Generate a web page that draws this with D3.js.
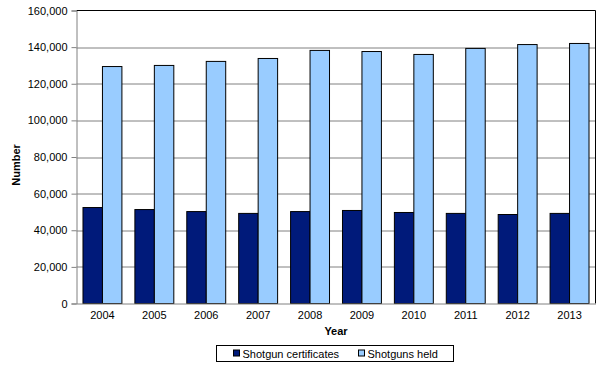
<!DOCTYPE html>
<html>
<head>
<meta charset="utf-8">
<script src="https://cdn.jsdelivr.net/npm/d3@7"></script>
<style>
  body { margin: 0; background: #fff; }
  text { font-family: "Liberation Sans", Arial, sans-serif; }
</style>
</head>
<body>
<div id="chart"></div>
<script>
// data
const years = ['2004', '2005', '2006', '2007', '2008', '2009', '2010', '2011', '2012', '2013'];
const certificates = [52400, 51300, 50200, 49200, 50200, 50800, 49700, 49200, 48600, 49200];
const shotgunsHeld = [129400, 130000, 132200, 133800, 138200, 137600, 136000, 139300, 141400, 142000];
const seriesNames = ['Shotgun certificates', 'Shotguns held'];
const yTicks = [0, 20000, 40000, 60000, 80000, 100000, 120000, 140000, 160000];

const draw = () => {
    const dimensions = {
        width: 605,
        height: 369,
        margin: { top: 10.5, bottom: 65.5, left: 76.5, right: 9.5 }
    };
    dimensions.containerWidth = dimensions.width - dimensions.margin.left - dimensions.margin.right;
    dimensions.containerHeight = dimensions.height - dimensions.margin.top - dimensions.margin.bottom;

    const colors = ['#001a7a', '#99ccff'];
    const dataSet = years.map((year, i) => ({ year, values: [certificates[i], shotgunsHeld[i]] }));

    const svg = d3.select('#chart')
        .append('svg')
        .attr('width', dimensions.width)
        .attr('height', dimensions.height);

    const container = svg.append('g')
        .attr('transform', `translate(${dimensions.margin.left}, ${dimensions.margin.top})`);

    // scales
    const xScale = d3.scaleBand()
        .domain(years)
        .range([0, dimensions.containerWidth])
        .paddingInner(0.25)
        .paddingOuter(0.125);

    const seriesScale = d3.scaleBand()
        .domain([0, 1])
        .range([0, xScale.bandwidth()]);

    const yScale = d3.scaleLinear()
        .domain([0, 160000])
        .range([dimensions.containerHeight, 0]);

    // gridlines
    container.append('g')
        .selectAll('line')
        .data(yTicks.slice(1, -1))
        .join('line')
        .attr('x1', 0)
        .attr('x2', dimensions.containerWidth)
        .attr('y1', d => Math.round(yScale(d)) + 0.5)
        .attr('y2', d => Math.round(yScale(d)) + 0.5)
        .attr('stroke', '#808080');

    // frame top/right
    container.append('path')
        .attr('d', `M0,0H${dimensions.containerWidth}V${dimensions.containerHeight}`)
        .attr('fill', 'none')
        .attr('stroke', '#000');

    // bars
    container.selectAll('g.group')
        .data(dataSet)
        .join('g')
        .attr('class', 'group')
        .attr('transform', d => `translate(${xScale(d.year)}, 0)`)
        .selectAll('rect')
        .data(d => d.values.map((v, i) => ({ v, i })))
        .join('rect')
        .attr('x', d => seriesScale(d.i))
        .attr('y', d => yScale(d.v))
        .attr('width', seriesScale.bandwidth())
        .attr('height', d => dimensions.containerHeight - yScale(d.v))
        .attr('fill', d => colors[d.i])
        .attr('stroke', '#000')
        .attr('stroke-width', 1);

    // axes
    const yAxis = d3.axisLeft(yScale)
        .tickValues(yTicks)
        .tickSize(5)
        .tickFormat(d3.format(','));

    const yAxisGroup = container.append('g').call(yAxis);
    yAxisGroup.select('.domain').attr('stroke', '#808080');
    yAxisGroup.selectAll('.tick line').attr('stroke', '#808080');
    yAxisGroup.selectAll('.tick text')
        .attr('x', -9)
        .attr('font-size', 11)
        .attr('font-family', '"Liberation Sans", Arial, sans-serif')
        .attr('fill', '#000');

    const xAxis = d3.axisBottom(xScale).tickSize(0).tickPadding(8);
    const xAxisGroup = container.append('g')
        .attr('transform', `translate(0, ${dimensions.containerHeight})`)
        .call(xAxis);
    xAxisGroup.select('.domain').attr('stroke', '#808080');
    xAxisGroup.selectAll('.tick text')
        .attr('font-size', 11)
        .attr('font-family', '"Liberation Sans", Arial, sans-serif')
        .attr('fill', '#000');

    xAxisGroup.append('text')
        .attr('x', dimensions.containerWidth / 2)
        .attr('y', 31)
        .attr('fill', '#000')
        .attr('font-size', 11)
        .attr('font-weight', 'bold')
        .attr('text-anchor', 'middle')
        .text('Year');

    svg.append('text')
        .attr('transform', 'translate(20, 165) rotate(-90)')
        .attr('fill', '#000')
        .attr('font-size', 11)
        .attr('font-weight', 'bold')
        .attr('text-anchor', 'middle')
        .text('Number');

    // legend
    const legend = svg.append('g').attr('transform', 'translate(216.5, 345.5)');
    legend.append('rect')
        .attr('width', 237)
        .attr('height', 16)
        .attr('fill', '#fff')
        .attr('stroke', '#000');

    const legendX = [17, 142];
    const items = legend.selectAll('g.item')
        .data(seriesNames)
        .join('g')
        .attr('class', 'item')
        .attr('transform', (d, i) => `translate(${legendX[i]}, 0)`);
    items.append('rect')
        .attr('x', 0)
        .attr('y', 4.5)
        .attr('width', 6)
        .attr('height', 6)
        .attr('fill', (d, i) => colors[i])
        .attr('stroke', '#000');
    items.append('text')
        .attr('x', 9)
        .attr('y', 12)
        .attr('font-size', 11)
        .attr('fill', '#000')
        .text(d => d);
};

draw();
</script>
</body>
</html>
